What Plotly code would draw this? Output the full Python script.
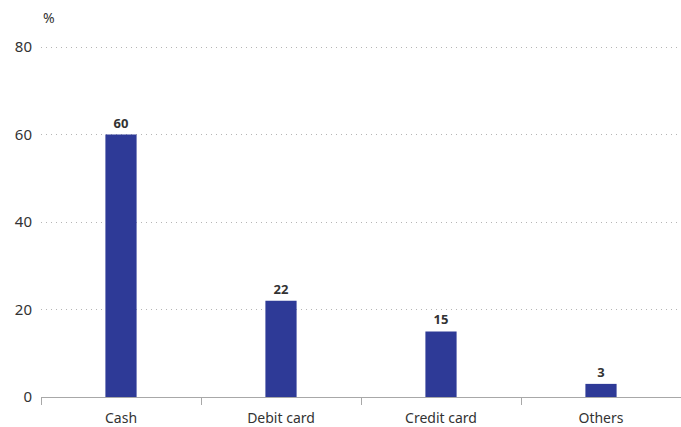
import plotly.graph_objects as go

# Share of payments by instrument (%)
categories = ["Cash", "Debit card", "Credit card", "Others"]
values = [60, 22, 15, 3]
y_ticks = [0, 20, 40, 60, 80]

bar_color = "#2E3A97"
text_color = "#333333"
axis_color = "#A8A8A8"
font_family = "Noto Sans, Open Sans, sans-serif"

fig = go.Figure(
    go.Bar(
        x=categories,
        y=values,
        marker=dict(color=bar_color, line=dict(width=0)),
        text=[str(v) for v in values],
        texttemplate="<b>%{text}</b>",
        textposition="outside",
        textfont=dict(size=13, color=text_color, family=font_family),
        cliponaxis=False,
        hoverinfo="skip",
    )
)

fig.update_layout(
    width=681,
    height=427,
    margin=dict(l=41, r=0, t=46, b=30),
    paper_bgcolor="white",
    plot_bgcolor="white",
    bargap=0.805,
    showlegend=False,
    font=dict(family=font_family, size=14, color=text_color),
    annotations=[
        dict(
            text="%",
            xref="paper",
            yref="paper",
            x=0,
            y=1,
            xanchor="left",
            yanchor="bottom",
            yshift=17,
            showarrow=False,
            font=dict(size=14, color=text_color, family=font_family),
        )
    ],
)

fig.update_xaxes(
    type="category",
    range=[-0.5, 3.5],
    automargin=False,
    showline=True,
    linecolor=axis_color,
    linewidth=1,
    ticks="outside",
    tickson="boundaries",
    ticklen=7,
    tickcolor=axis_color,
    tickwidth=1,
    showgrid=False,
    ticklabelstandoff=8,
    tickfont=dict(size=14, color=text_color, family=font_family),
)

fig.update_yaxes(
    range=[0, 80.25],
    tickvals=y_ticks,
    ticktext=[str(t) for t in y_ticks],
    automargin=False,
    showgrid=True,
    gridcolor="#B5B5B5",
    griddash="1px,4px",
    gridwidth=1,
    zeroline=False,
    showline=False,
    ticks="",
    ticklabelstandoff=8,
    tickfont=dict(size=15, color=text_color, family=font_family),
)

fig.write_html("out.html")
